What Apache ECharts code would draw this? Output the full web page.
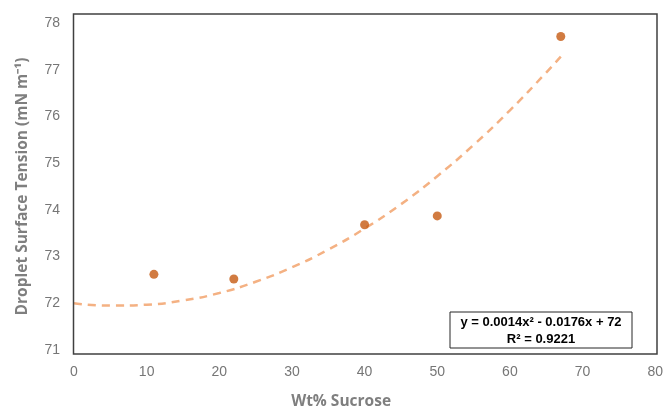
<!DOCTYPE html>
<html><head><meta charset="utf-8">
<script src="https://cdn.jsdelivr.net/npm/echarts@6/dist/echarts.min.js"></script>
<style>html,body{margin:0;padding:0;background:#fff}#c{width:666px;height:415px}</style>
</head><body><div id="c"></div>
<script>
var sucrose = [11, 22, 40, 50, 67];
var tension = [72.62, 72.52, 73.68, 73.87, 77.71];
var trendX = [0, 5, 10, 15, 20, 25, 30, 35, 40, 45, 50, 55, 60, 65, 67];
var trendY = [72.00, 71.95, 71.97, 72.06, 72.22, 72.46, 72.77, 73.15, 73.60, 74.12, 74.72, 75.39, 76.13, 76.94, 77.28];
var xTicks = [0, 10, 20, 30, 40, 50, 60, 70, 80];
var yTicks = [71, 72, 73, 74, 75, 76, 77, 78];
var eqLine1 = 'y = 0.0014x² - 0.0176x + 72';
var eqLine2 = 'R² = 0.9221';

var chart = echarts.init(document.getElementById('c'));
var lab = {color:'#767676', fontFamily:'Liberation Sans, Arial, sans-serif', fontSize:14};
var nameStyle = {color:'#7f7f7f', fontFamily:'Open Sans, sans-serif', fontWeight:'bold', fontSize:15.5};
chart.setOption({
  animation:false,
  grid:{left:74, right:9, top:23, bottom:61, containLabel:false},
  xAxis:{type:'value', min:xTicks[0], max:xTicks[xTicks.length-1], interval:10,
    axisLine:{show:false}, axisTick:{show:false}, splitLine:{show:false},
    axisLabel:Object.assign({margin:15}, lab),
    name:'Wt% Sucrose', nameLocation:'middle', nameGap:44,
    nameTextStyle:Object.assign({padding:[0,47,0,0]}, nameStyle)},
  yAxis:{type:'value', min:yTicks[0], max:yTicks[yTicks.length-1], interval:1,
    axisLine:{show:false}, axisTick:{show:false}, splitLine:{show:false},
    axisLabel:Object.assign({margin:14, padding:[4,0,0,0]}, lab),
    name:'Droplet Surface Tension (mN m⁻¹)', nameLocation:'middle', nameGap:43,
    nameTextStyle:nameStyle},
  graphic:[
    {type:'rect', shape:{x:73.5, y:14, width:583.5, height:340}, style:{fill:'none', stroke:'#404040', lineWidth:1.5}, z:10},
    {type:'rect', shape:{x:450, y:312, width:182, height:36}, style:{fill:'#fff', stroke:'#262626', lineWidth:1}, z:20},
    {type:'text', x:541, y:322, style:{text:eqLine1, fill:'#000', font:'bold 13px Liberation Sans, Arial, sans-serif', align:'center', verticalAlign:'middle'}, z:21},
    {type:'text', x:541, y:339, style:{text:eqLine2, fill:'#000', font:'bold 13px Liberation Sans, Arial, sans-serif', align:'center', verticalAlign:'middle'}, z:21}
  ],
  series:[
    {type:'line', data:trendX.map(function(x,i){return [x, trendY[i]];}), smooth:true, showSymbol:false,
      lineStyle:{color:'#F4B183', width:2.5, type:[8,6]}, z:2},
    {type:'scatter', data:sucrose.map(function(x,i){return [x, tension[i]];}), symbolSize:9,
      itemStyle:{color:'#C55A11'}, z:3}
  ]
});
</script></body></html>
